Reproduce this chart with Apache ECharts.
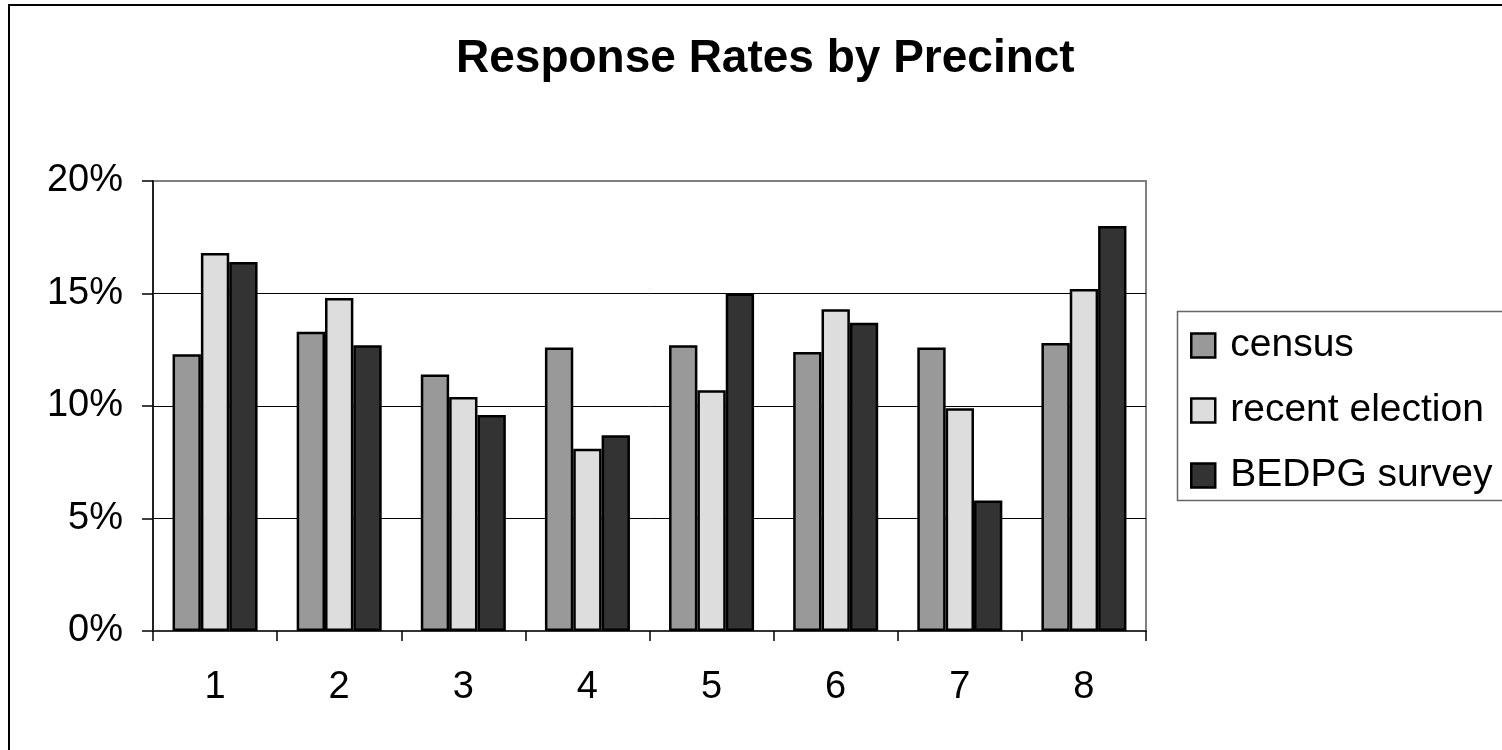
<!DOCTYPE html>
<html>
<head>
<meta charset="utf-8">
<script src="https://cdn.jsdelivr.net/npm/echarts@6/dist/echarts.min.js"></script>
<style>
html,body{margin:0;padding:0;background:#fff;}
#chart{width:1502px;height:750px;}
</style>
</head>
<body>
<div id="chart"></div>
<script>
const categories = ['1', '2', '3', '4', '5', '6', '7', '8'];
const census = [12.3, 13.3, 11.4, 12.6, 12.7, 12.4, 12.6, 12.8];
const recentElection = [16.8, 14.8, 10.4, 8.1, 10.7, 14.3, 9.9, 15.2];
const bedpgSurvey = [16.4, 12.7, 9.6, 8.7, 15.0, 13.7, 5.8, 18.0];
const seriesNames = ['census', 'recent election', 'BEDPG survey'];
const yTicks = [0, 5, 10, 15, 20];

const FONT = '"Liberation Sans", Arial, sans-serif';
const chart = echarts.init(document.getElementById('chart'), null, {renderer: 'canvas'});

function barSeries(name, data, color) {
  return {
    name: name,
    type: 'bar',
    data: data,
    barGap: '0%',
    barCategoryGap: '31.5%',
    itemStyle: {color: color, borderColor: '#000', borderWidth: 2.5},
    emphasis: {disabled: true}
  };
}

chart.setOption({
  animation: false,
  backgroundColor: '#fff',
  title: {
    text: 'Response Rates by Precinct',
    left: 456,
    top: 36,
    padding: 0,
    textStyle: {fontFamily: FONT, fontSize: 46, fontWeight: 'bold', color: '#000'}
  },
  graphic: [{
    type: 'rect',
    shape: {x: 9, y: 5, width: 1700, height: 900},
    style: {fill: null, stroke: '#000', lineWidth: 2},
    silent: true,
    z: -10
  }, {
    type: 'rect',
    shape: {x: 1177.5, y: 311.5, width: 500, height: 189},
    style: {fill: '#fff', stroke: '#666', lineWidth: 1.5},
    silent: true,
    z: -5
  }],
  legend: {
    orient: 'vertical',
    left: 1177,
    top: 311,
    padding: [15, 0, 8, 13],
    itemWidth: 24,
    itemHeight: 24,
    itemGap: 26,
    borderWidth: 0,
    textStyle: {fontFamily: FONT, fontSize: 39, color: '#000', padding: [0, 0, 0, 10]},
    itemStyle: {borderColor: '#000', borderWidth: 2.5},
    data: seriesNames.map(n => ({name: n, icon: 'rect'}))
  },
  grid: {
    left: 153, top: 181, width: 993, height: 450,
    show: true,
    borderColor: '#808080',
    borderWidth: 2,
    backgroundColor: 'transparent'
  },
  xAxis: {
    type: 'category',
    data: categories,
    boundaryGap: true,
    axisLine: {lineStyle: {color: '#333', width: 2}},
    axisTick: {show: true, interval: 0, length: 10, lineStyle: {color: '#000', width: 1.5}},
    axisLabel: {fontFamily: FONT, fontSize: 38, color: '#000', margin: 38, interval: 0}
  },
  yAxis: {
    type: 'value',
    min: yTicks[0],
    max: yTicks[yTicks.length - 1],
    interval: 5,
    axisLine: {show: true, lineStyle: {color: '#222', width: 2}},
    axisTick: {show: true, length: 11, lineStyle: {color: '#000', width: 1.5}},
    axisLabel: {fontFamily: FONT, fontSize: 38, color: '#000', margin: 30, formatter: '{value}%'},
    splitLine: {show: true, showMaxLine: false, showMinLine: false, lineStyle: {color: '#000', width: 1}}
  },
  series: [
    barSeries(seriesNames[0], census, '#999999'),
    barSeries(seriesNames[1], recentElection, '#dddddd'),
    barSeries(seriesNames[2], bedpgSurvey, '#333333')
  ]
});
</script>
</body>
</html>
